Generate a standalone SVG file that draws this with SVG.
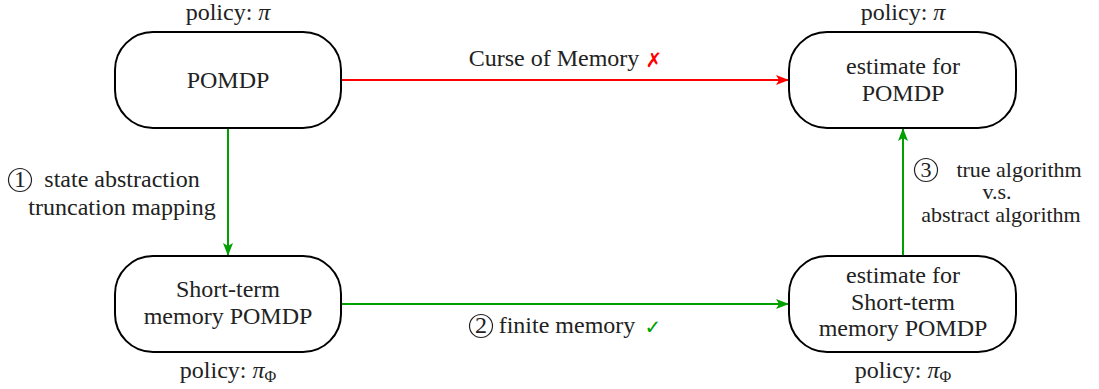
<svg xmlns="http://www.w3.org/2000/svg" width="1099" height="389" viewBox="0 0 1099 389">
<style>
.box{fill:#fff;stroke:#000;stroke-width:2}
.m{text-anchor:middle}
.circ{fill:none;stroke:#222;stroke-width:1.2}
.red{stroke:#ff0000;stroke-width:2;fill:none}
.grn{stroke:#00a000;stroke-width:2;fill:none}
</style>
<defs>
<marker id="ar" markerUnits="userSpaceOnUse" markerWidth="14" markerHeight="12" refX="13" refY="6" orient="auto">
<path d="M0,1 L13,6 L0,11 L3,6 z" fill="#ff0000"/>
</marker>
<marker id="ag" markerUnits="userSpaceOnUse" markerWidth="14" markerHeight="12" refX="13" refY="6" orient="auto">
<path d="M0,1 L13,6 L0,11 L3,6 z" fill="#00a000"/>
</marker>
</defs>
<rect width="1099" height="389" fill="#fff"/>
<g id="connectors">
<line class="red" x1="341" y1="80" x2="789" y2="80" marker-end="url(#ar)"/>
<line class="grn" x1="228" y1="128" x2="228" y2="256" marker-end="url(#ag)"/>
<line class="grn" x1="341" y1="304" x2="789" y2="304" marker-end="url(#ag)"/>
<line class="grn" x1="903" y1="256" x2="903" y2="128" marker-end="url(#ag)"/>
<text class="m" x="554" y="66" style="font-family:'Liberation Serif',serif;font-size:24px;fill:#222">Curse of Memory</text>
<text class="m" x="654" y="67" style="font-family:'DejaVu Sans',sans-serif;font-size:20px;font-weight:bold;fill:#ff0000">&#10007;</text>
<circle class="circ" cx="481" cy="326" r="11.5"/>
<text class="m" x="481" y="333" style="font-family:'Liberation Serif',serif;font-size:24px;fill:#222">2</text>
<text class="m" x="567" y="333" style="font-family:'Liberation Serif',serif;font-size:24px;fill:#222">finite memory</text>
<text class="m" x="653" y="334" style="font-family:'DejaVu Sans',sans-serif;font-size:20px;font-weight:bold;fill:#00a000">&#10003;</text>
<circle class="circ" cx="20" cy="180" r="11.5"/>
<text class="m" x="20" y="187" style="font-family:'Liberation Serif',serif;font-size:24px;fill:#222">1</text>
<text class="m" x="122" y="187" style="font-family:'Liberation Serif',serif;font-size:24px;fill:#222">state abstraction</text>
<text class="m" x="122" y="215" style="font-family:'Liberation Serif',serif;font-size:24px;fill:#222">truncation mapping</text>
<circle class="circ" cx="926" cy="170" r="11.5"/>
<text class="m" x="926" y="177" style="font-family:'Liberation Serif',serif;font-size:22px;fill:#222">3</text>
<text class="m" x="1019" y="177" style="font-family:'Liberation Serif',serif;font-size:22px;fill:#222">true algorithm</text>
<text class="m" x="997" y="199" style="font-family:'Liberation Serif',serif;font-size:22px;fill:#222">v.s.</text>
<text class="m" x="1001" y="222" style="font-family:'Liberation Serif',serif;font-size:22px;fill:#222">abstract algorithm</text>
</g>
<g id="n1">
<rect class="box" x="115" y="32" width="226" height="96" rx="38" ry="38"/>
<text class="m" x="228" y="88" style="font-family:'Liberation Serif',serif;font-size:24px;fill:#222">POMDP</text>
<text class="m" x="228" y="20" style="font-family:'Liberation Serif',serif;font-size:24px;fill:#222">policy: <tspan font-style="italic">&#960;</tspan></text>
</g>
<g id="n2">
<rect class="box" x="789" y="32" width="227" height="96" rx="38" ry="38"/>
<text class="m" x="903" y="74" style="font-family:'Liberation Serif',serif;font-size:24px;fill:#222">estimate for</text>
<text class="m" x="903" y="101" style="font-family:'Liberation Serif',serif;font-size:24px;fill:#222">POMDP</text>
<text class="m" x="903" y="20" style="font-family:'Liberation Serif',serif;font-size:24px;fill:#222">policy: <tspan font-style="italic">&#960;</tspan></text>
</g>
<g id="n3">
<rect class="box" x="115" y="256" width="226" height="96" rx="38" ry="38"/>
<text class="m" x="228" y="297" style="font-family:'Liberation Serif',serif;font-size:24px;fill:#222">Short-term</text>
<text class="m" x="228" y="324" style="font-family:'Liberation Serif',serif;font-size:24px;fill:#222">memory POMDP</text>
<text class="m" x="228" y="378" style="font-family:'Liberation Serif',serif;font-size:24px;fill:#222">policy: <tspan font-style="italic">&#960;</tspan><tspan font-size="16" dy="4">&#934;</tspan></text>
</g>
<g id="n4">
<rect class="box" x="789" y="256" width="227" height="96" rx="38" ry="38"/>
<text class="m" x="903" y="283" style="font-family:'Liberation Serif',serif;font-size:24px;fill:#222">estimate for</text>
<text class="m" x="903" y="310" style="font-family:'Liberation Serif',serif;font-size:24px;fill:#222">Short-term</text>
<text class="m" x="903" y="336" style="font-family:'Liberation Serif',serif;font-size:24px;fill:#222">memory POMDP</text>
<text class="m" x="903" y="378" style="font-family:'Liberation Serif',serif;font-size:24px;fill:#222">policy: <tspan font-style="italic">&#960;</tspan><tspan font-size="16" dy="4">&#934;</tspan></text>
</g>
</svg>
